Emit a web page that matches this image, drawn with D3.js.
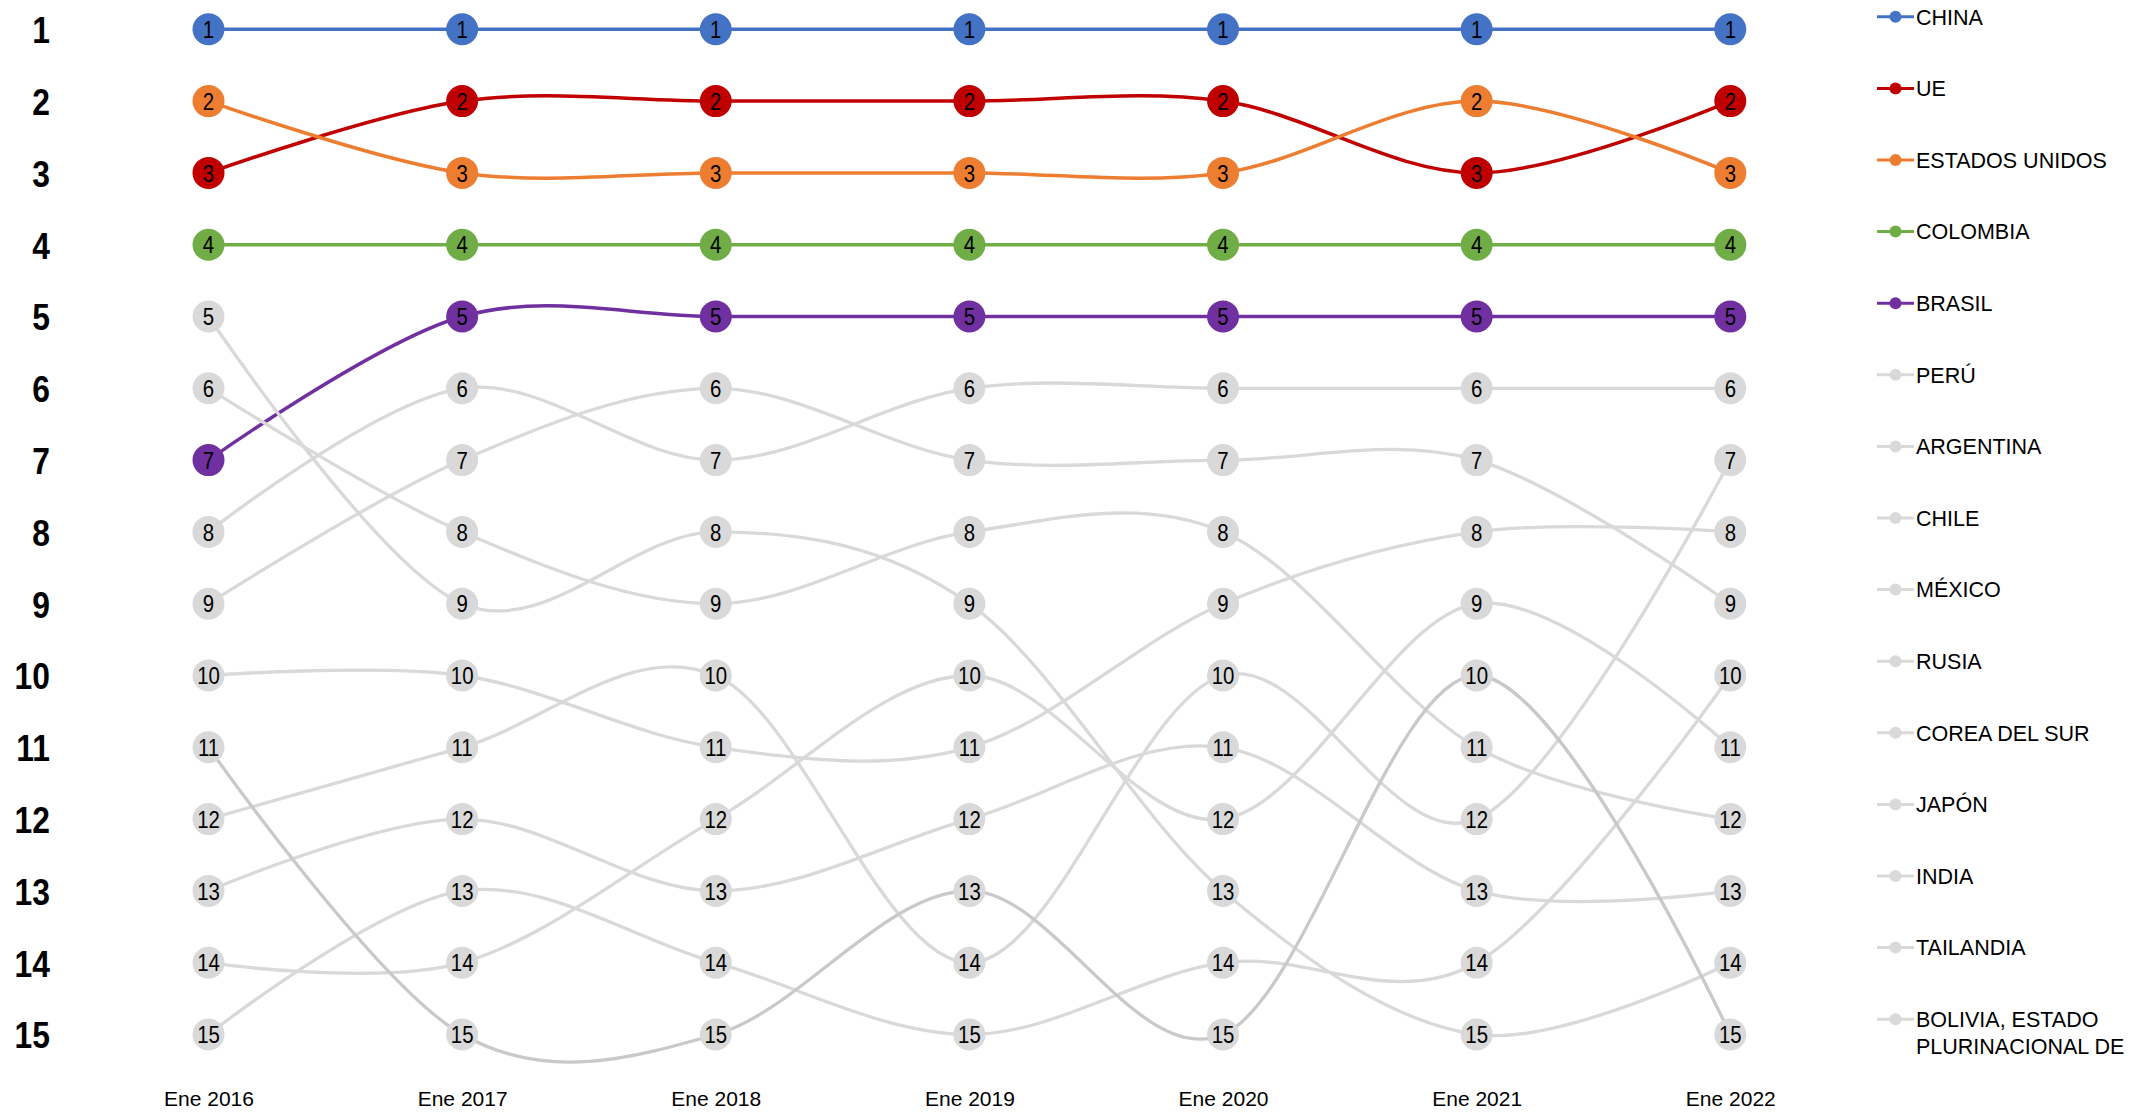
<!DOCTYPE html>
<html>
<head>
<meta charset="utf-8">
<script src="https://cdn.jsdelivr.net/npm/d3@7"></script>
<style>
  body { margin: 0; background: #ffffff; }
  svg { display: block; }
  text { font-family: "Liberation Sans", Arial, Helvetica, sans-serif; fill: #000; }
</style>
</head>
<body>
<svg id="chart" width="2145" height="1112"></svg>
<script>
// ---------- DATA ----------
const years = ["Ene 2016", "Ene 2017", "Ene 2018", "Ene 2019", "Ene 2020", "Ene 2021", "Ene 2022"];
const countries = ["CHINA", "UE", "ESTADOS UNIDOS", "COLOMBIA", "BRASIL", "PERÚ", "ARGENTINA", "CHILE",
  "MÉXICO", "RUSIA", "COREA DEL SUR", "JAPÓN", "INDIA", "TAILANDIA", "BOLIVIA, ESTADO PLURINACIONAL DE"];
const rankTicks = [1, 2, 3, 4, 5, 6, 7, 8, 9, 10, 11, 12, 13, 14, 15];

const rankChina     = [1, 1, 1, 1, 1, 1, 1];
const rankUE        = [3, 2, 2, 2, 2, 3, 2];
const rankEEUU      = [2, 3, 3, 3, 3, 2, 3];
const rankColombia  = [4, 4, 4, 4, 4, 4, 4];
const rankBrasil    = [7, 5, 5, 5, 5, 5, 5];
const rankPeru      = [8, 6, 7, 6, 6, 6, 6];
const rankArgentina = [12, 11, 10, 14, 10, 12, 7];
const rankChile     = [10, 10, 11, 11, 9, 8, 8];
const rankMexico    = [9, 7, 6, 7, 7, 7, 9];
const rankRusia     = [15, 13, 14, 15, 14, 14, 10];
const rankCorea     = [14, 14, 12, 10, 12, 9, 11];
const rankJapon     = [6, 8, 9, 8, 8, 11, 12];
const rankIndia     = [13, 12, 13, 12, 11, 13, 13];
const rankTailandia = [5, 9, 8, 9, 13, 15, 14];
const rankBolivia   = [11, 15, 15, 13, 15, 10, 15];

const seriesRanks = [rankChina, rankUE, rankEEUU, rankColombia, rankBrasil, rankPeru, rankArgentina,
  rankChile, rankMexico, rankRusia, rankCorea, rankJapon, rankIndia, rankTailandia, rankBolivia];

const lineColors = ["#4472C4", "#C00000", "#ED7D31", "#70AD47", "#7030A0", "#D9D9D9", "#D9D9D9", "#D9D9D9",
  "#D9D9D9", "#D9D9D9", "#D9D9D9", "#D9D9D9", "#D9D9D9", "#D9D9D9", "#C9C9C9"];
const markerColors = ["#4472C4", "#C00000", "#ED7D31", "#70AD47", "#7030A0", "#D9D9D9", "#D9D9D9", "#D9D9D9",
  "#D9D9D9", "#D9D9D9", "#D9D9D9", "#D9D9D9", "#D9D9D9", "#D9D9D9", "#D9D9D9"];

// ---------- LAYOUT ----------
const svg = d3.select("#chart");
const x = d3.scalePoint().domain(years).range([208.5, 1730.3]);
const y = d3.scaleLinear().domain([1, 15]).range([29.3, 1034.5]);
const legendY = d3.scaleLinear().domain([0, 14]).range([16.8, 1019.2]);

const series = countries.map((name, i) => ({
  name, idx: i, values: seriesRanks[i].map((r, j) => ({ year: years[j], rank: r }))
}));

// Rank axis (left)
const yAxis = d3.axisLeft(y).tickValues(rankTicks).tickSize(0).tickPadding(0).tickFormat(d3.format("d"));
const gy = svg.append("g").attr("transform", "translate(50,0)").call(yAxis);
gy.select(".domain").remove();
gy.selectAll("text")
  .attr("x", 0)
  .attr("dy", "0.36em")
  .attr("transform", "scale(0.86,1)")
  .style("font-size", "37px")
  .style("font-weight", "bold")
  .style("font-family", '"Liberation Sans", Arial, sans-serif')
  .attr("fill", "#000");

// Year axis (bottom)
const xAxis = d3.axisBottom(x).tickSize(0).tickPadding(0);
const gx = svg.append("g").attr("transform", "translate(0,1091)").call(xAxis);
gx.select(".domain").remove();
gx.selectAll("text")
  .style("font-size", "21px")
  .style("font-family", '"Liberation Sans", Arial, sans-serif')
  .attr("fill", "#000");

// Lines + markers, series by series
const line = d3.line()
  .x(d => x(d.year))
  .y(d => y(d.rank))
  .curve(d3.curveCardinal.tension(0));

const plot = svg.append("g");
series.forEach(s => {
  const g = plot.append("g");
  g.append("path")
    .datum(s.values)
    .attr("d", line)
    .attr("fill", "none")
    .attr("stroke", lineColors[s.idx])
    .attr("stroke-width", s.idx < 5 ? 3.5 : 3.3)
    .attr("stroke-linecap", "round");
  g.selectAll("circle")
    .data(s.values)
    .join("circle")
    .attr("cx", d => x(d.year))
    .attr("cy", d => y(d.rank))
    .attr("r", 16)
    .attr("fill", markerColors[s.idx]);
});

// Data labels on top
const labels = svg.append("g");
series.forEach(s => {
  labels.selectAll(null)
    .data(s.values)
    .join("text")
    .attr("transform", d => `translate(${x(d.year)},${y(d.rank)}) scale(0.85,1)`)
    .attr("text-anchor", "middle")
    .attr("dy", "0.36em")
    .style("font-size", "24px")
    .attr("fill", "#000")
    .text(d => d.rank);
});

// Legend
function wrap(name, maxChars) {
  const words = name.split(" ");
  const lines = [];
  let cur = "";
  words.forEach(w => {
    const t = cur ? cur + " " + w : w;
    if (t.length > maxChars && cur) { lines.push(cur); cur = w; }
    else cur = t;
  });
  if (cur) lines.push(cur);
  return lines;
}

const legend = svg.append("g");
series.forEach(s => {
  const gy0 = legendY(s.idx);
  const g = legend.append("g").attr("transform", `translate(0,${gy0})`);
  g.append("line")
    .attr("x1", 1877).attr("x2", 1914).attr("y1", 0).attr("y2", 0)
    .attr("stroke", markerColors[s.idx]).attr("stroke-width", 3);
  g.append("circle")
    .attr("cx", 1895.5).attr("cy", 0).attr("r", 6)
    .attr("fill", markerColors[s.idx]);
  const t = g.append("text")
    .attr("x", 1916)
    .attr("y", 0)
    .style("font-size", "21.5px")
    .attr("fill", "#000");
  wrap(s.name, 16).forEach((ln, k) => {
    t.append("tspan").attr("x", 1916).attr("dy", k === 0 ? "0.36em" : "1.24em").text(ln);
  });
});
</script>
</body>
</html>
